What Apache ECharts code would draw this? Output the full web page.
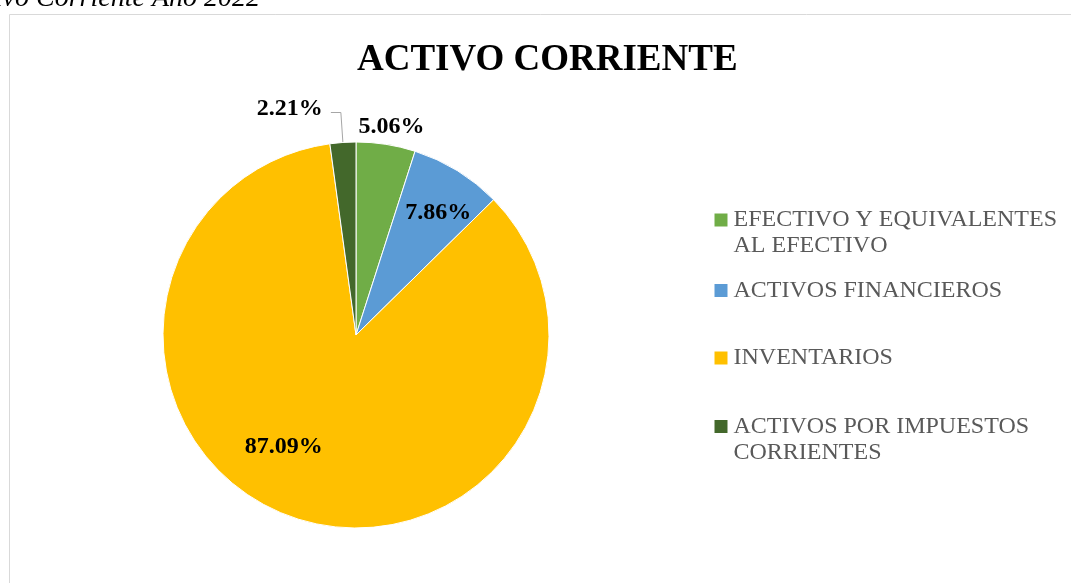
<!DOCTYPE html>
<html>
<head>
<meta charset="utf-8">
<script src="https://cdn.jsdelivr.net/npm/echarts@6/dist/echarts.min.js"></script>
<style>
  html, body { margin: 0; padding: 0; background: #fff; }
  #main { width: 1071px; height: 583px; }
</style>
</head>
<body>
<div id="main"></div>
<script>
// datos del grafico
var categories = [
    'EFECTIVO Y EQUIVALENTES\nAL EFECTIVO',
    'ACTIVOS FINANCIEROS',
    'INVENTARIOS',
    'ACTIVOS POR IMPUESTOS\nCORRIENTES'
];
var values = [5.06, 7.86, 87.09, 2.21];
var colors = ['#70AD47', '#5B9BD5', '#FFC000', '#43682B'];

var serif = '"Times New Roman", "Liberation Serif", serif';

var myChart = echarts.init(document.getElementById('main'));

// label settings per slice (inside labels nudged to where Excel puts them)
var labelCfg = [
    { position: 'inside', offset: [20, -110] },
    { position: 'inside', offset: [30, -38] },
    { position: 'inside', offset: [-40, 18] },
    { position: 'outside', offset: [0, -4] }
];

var pieData = categories.map(function (name, i) {
    return {
        name: name,
        value: values[i],
        itemStyle: { color: colors[i] },
        label: labelCfg[i]
    };
});

// one legend per item so the spacing can follow the original
var legendTops = [181, 277.5, 345, 387.5];
var legends = categories.map(function (name, i) {
    var twoLines = name.indexOf('\n') >= 0;
    return {
        data: [name],
        orient: 'vertical',
        left: 712.5,
        top: legendTops[i],
        padding: 0,
        itemWidth: 15,
        itemHeight: 15,
        icon: 'rect',
        selectedMode: false,
        // empty first line keeps the marker next to the first text line
        formatter: twoLines ? function (n) { return '\n' + n; } : '{name}',
        textStyle: {
            fontFamily: serif,
            fontSize: 24,
            color: '#595959',
            lineHeight: 26
        }
    };
});

var option = {
    animation: false,
    backgroundColor: '#fff',
    title: {
        text: 'ACTIVO CORRIENTE',
        left: 357,
        top: 42,
        padding: 0,
        textStyle: {
            fontFamily: serif,
            fontSize: 37,
            fontWeight: 'bold',
            color: '#000'
        }
    },
    legend: legends,
    graphic: [
        {
            type: 'rect',
            shape: { x: 9.5, y: 14.5, width: 1200, height: 700 },
            style: { fill: 'none', stroke: '#d9d9d9', lineWidth: 1 },
            silent: true
        },
        {
            type: 'text',
            x: 260,
            y: -1.5,
            style: {
                text: 'Activo Corriente Año 2022',
                fontFamily: serif,
                fontStyle: 'italic',
                fontSize: 28,
                fill: '#000',
                align: 'right',
                verticalAlign: 'middle'
            },
            silent: true
        }
    ],
    series: [{
        name: 'ACTIVO CORRIENTE',
        type: 'pie',
        center: [356, 335],
        radius: 193,
        startAngle: 90,
        clockwise: true,
        avoidLabelOverlap: false,
        itemStyle: { borderColor: '#fff', borderWidth: 1 },
        label: {
            show: true,
            formatter: function (p) { return p.value.toFixed(2) + '%'; },
            fontFamily: serif,
            fontSize: 24,
            fontWeight: 'bold',
            color: '#000',
            distanceToLabelLine: 8
        },
        labelLine: {
            show: true,
            length: 30,
            length2: 10,
            lineStyle: { color: '#a6a6a6', width: 1 }
        },
        emphasis: { disabled: true },
        data: pieData
    }]
};

myChart.setOption(option);
</script>
</body>
</html>
